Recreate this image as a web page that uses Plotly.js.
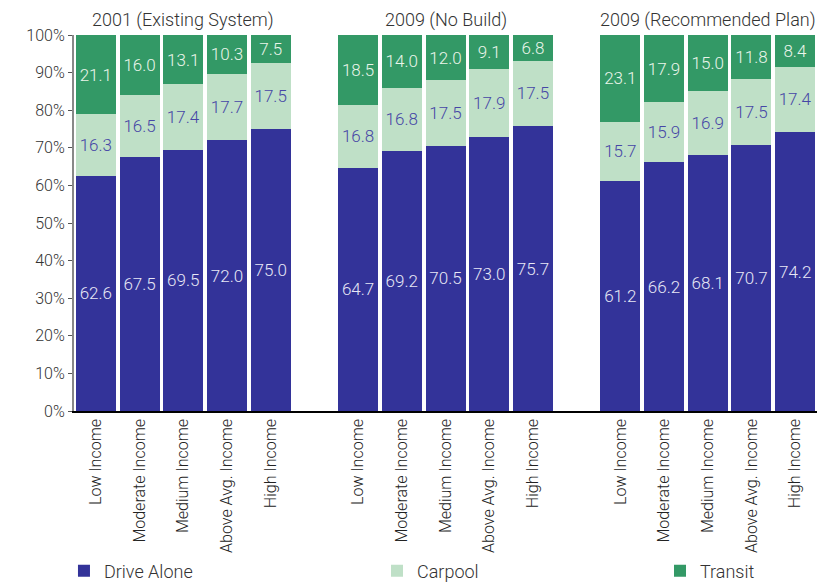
<!DOCTYPE html>
<html>
<head>
<meta charset="utf-8">
<script src="https://cdn.plot.ly/plotly-3.0.1.min.js"></script>
<style>html,body{margin:0;padding:0;background:#fff;}#chart{width:818px;height:583px;}</style>
</head>
<body>
<div id="chart"></div>
<script>
// Categories and groups
const incomeLevels = ["Low Income", "Moderate Income", "Medium Income", "Above Avg. Income", "High Income"];
const groupTitles = ["2001 (Existing System)", "2009 (No Build)", "2009 (Recommended Plan)"];

// Series values (percent), per group in order of incomeLevels
const driveAlone2001 = [62.6, 67.5, 69.5, 72.0, 75.0];
const carpool2001    = [16.3, 16.5, 17.4, 17.7, 17.5];
const transit2001    = [21.1, 16.0, 13.1, 10.3, 7.5];

const driveAlone2009NB = [64.7, 69.2, 70.5, 73.0, 75.7];
const carpool2009NB    = [16.8, 16.8, 17.5, 17.9, 17.5];
const transit2009NB    = [18.5, 14.0, 12.0, 9.1, 6.8];

const driveAlone2009RP = [61.2, 66.2, 68.1, 70.7, 74.2];
const carpool2009RP    = [15.7, 15.9, 16.9, 17.5, 17.4];
const transit2009RP    = [23.1, 17.9, 15.0, 11.8, 8.4];

const yTickVals = [0,10,20,30,40,50,60,70,80,90,100];
const yTickText = ["0%","10%","20%","30%","40%","50%","60%","70%","80%","90%","100%"];

// Build slot positions: 5 bars, one empty slot, 5 bars, empty, 5 bars
const slots = [];
const slotLabels = [];
for (let g = 0; g < 3; g++) {
  for (let i = 0; i < incomeLevels.length; i++) {
    slots.push(g * 6 + i);
    slotLabels.push(incomeLevels[i]);
  }
}
const driveAll = driveAlone2001.concat(driveAlone2009NB, driveAlone2009RP);
const carpoolAll = carpool2001.concat(carpool2009NB, carpool2009RP);
const transitAll = transit2001.concat(transit2009NB, transit2009RP);

const FONT = "Roboto, Liberation Sans, sans-serif";
const W = 300;

function series(name, vals, color, textColor, legendId) {
  return {
    type: "bar", name: name, x: slots, y: vals,
    legend: legendId,
    marker: {color: color, line: {width: 0}},
    text: vals.map(v => v.toFixed(1)),
    texttemplate: "%{text}",
    textposition: "inside", insidetextanchor: "middle",
    textangle: 0, constraintext: "none",
    textfont: {family: FONT, size: 17, color: textColor, weight: W},
    hoverinfo: "skip"
  };
}

const data = [
  series("Drive Alone", driveAll, "#333399", "#e8e8f6", "legend"),
  series("Carpool", carpoolAll, "#bfe0c7", "#4646a6", "legend2"),
  series("Transit", transitAll, "#339966", "#eaf5ea", "legend3")
];

const annotations = groupTitles.map((t, g) => ({
  text: t, x: g * 6 + 2, xref: "x", y: 1, yref: "paper",
  yanchor: "bottom", yshift: 2, showarrow: false,
  font: {family: FONT, size: 18, color: "#333", weight: W}
}));

function legendAt(x) {
  return {
    orientation: "h", x: x, xanchor: "left", y: -0.4255, yanchor: "middle",
    font: {family: FONT, size: 18, color: "#333", weight: W},
    itemwidth: 30, bgcolor: "rgba(0,0,0,0)"
  };
}

const layout = {
  width: 818, height: 583,
  margin: {l: 74, r: 1, t: 35, b: 172, autoexpand: false},
  paper_bgcolor: "#fff", plot_bgcolor: "#fff",
  barmode: "stack", bargap: 0.085,
  showlegend: true,
  legend: legendAt(-0.0135),
  legend2: legendAt(0.4078),
  legend3: legendAt(0.7887),
  xaxis: {
    range: [-0.5, 16.5], tickmode: "array", tickvals: slots, ticktext: slotLabels,
    tickangle: -90, showgrid: false, zeroline: false, automargin: false,
    showline: true, linecolor: "#000", linewidth: 1.5,
    ticks: "", fixedrange: true,
    tickfont: {family: FONT, size: 16, color: "#222", weight: W}
  },
  yaxis: {
    range: [0, 100], tickmode: "array", tickvals: yTickVals, ticktext: yTickText,
    showgrid: false, zeroline: false, showline: true, automargin: false,
    linecolor: "#888", linewidth: 2,
    ticks: "outside", ticklen: 4, tickcolor: "#555",
    tickfont: {family: FONT, size: 16, color: "#333", weight: W}
  },
  annotations: annotations,
  font: {family: FONT}
};

Plotly.newPlot("chart", data, layout, {displayModeBar: false, staticPlot: true});
</script>
</body>
</html>
